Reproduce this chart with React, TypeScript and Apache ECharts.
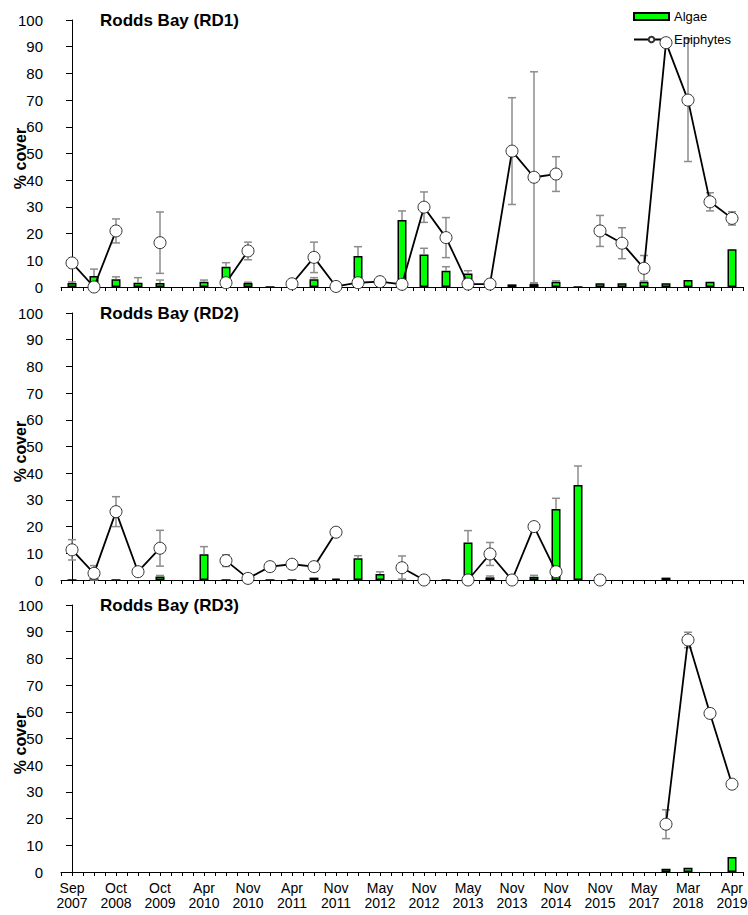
import React, { useEffect, useRef } from "react";
import * as echarts from "echarts";

// 31 sampling occasions; only every second one is labelled on the axis
const tickLabels = [
  "Sep\n2007", "", "Oct\n2008", "", "Oct\n2009", "", "Apr\n2010", "", "Nov\n2010", "",
  "Apr\n2011", "", "Nov\n2011", "", "May\n2012", "", "Nov\n2012", "", "May\n2013", "",
  "Nov\n2013", "", "Nov\n2014", "", "Nov\n2015", "", "May\n2017", "", "Mar\n2018", "",
  "Apr\n2019",
];

const panelTitles = ["Rodds Bay (RD1)", "Rodds Bay (RD2)", "Rodds Bay (RD3)"];

// RD1
const rd1Algae = [1.5, 4.1, 2.9, 1.6, 1.5, null, 2.0, 7.6, 1.5, 0, null, 2.9, null, 11.6, null, 25.1, 12.2, 6.1, 5.1, null, 1.0, 1.1, 2.0, 0, 1.4, 1.4, 2.0, 1.4, 2.6, 2.0, 14.1];
const rd1AlgaeErr = [0.4, 2.6, 0.9, 1.9, 1.1, null, 0.6, 1.5, 0.3, null, null, 0.6, null, 3.5, null, 3.4, 2.3, 1.5, 1.0, null, null, 0.3, 0.3, null, null, null, null, null, null, null, null];
const rd1Epi = [9.0, 0.0, 21.0, null, 16.6, null, null, 1.6, 13.5, null, 1.2, 11.1, 0.2, 1.6, 2.0, 1.0, 29.9, 18.5, 1.1, 1.1, 50.9, 41.1, 42.3, null, 21.0, 16.4, 7.0, 91.5, 70.0, 31.9, 25.7];
const rd1EpiErr = [null, null, 4.5, null, 11.5, null, null, null, 3.3, null, null, 5.7, null, null, null, null, 5.7, 7.5, null, null, 20.0, 39.5, 6.5, null, 5.8, 5.8, 4.8, 1.0, 23.0, 3.4, 2.5];

// RD2
const rd2Algae = [0, 0.6, 0, null, 1.3, null, 9.6, 0, null, 0, 0, 0.9, 0.5, 8.1, 2.25, 0.3, null, 0, 14.0, 1.0, null, 1.25, 26.6, 35.6, null, null, null, 0.9, null, null, null];
const rd2AlgaeErr = [null, null, null, null, 0.4, null, 2.9, null, null, null, null, null, null, 1.0, 0.8, null, null, null, 4.5, 0.5, null, 0.5, 4.0, 7.1, null, null, null, null, null, null, null];
const rd2Epi = [11.3, 2.5, 25.6, 3.1, 11.9, null, null, 7.25, 0.6, 5.0, 5.9, 5.0, 17.9, null, null, 4.6, 0, null, 0, 9.75, 0, 20.0, 3.1, null, 0, null, null, null, null, null, null];
const rd2EpiErr = [3.8, 2.9, 5.6, null, 6.7, null, null, 2.2, null, null, null, null, null, null, null, 4.4, null, null, null, 4.3, null, null, null, null, null, null, null, null, null, null, null];

// RD3
const rd3Algae = [null, null, null, null, null, null, null, null, null, null, null, null, null, null, null, null, null, null, null, null, null, null, null, null, null, null, null, 1.25, 1.6, null, 5.6];
const rd3AlgaeErr = [null, null, null, null, null, null, null, null, null, null, null, null, null, null, null, null, null, null, null, null, null, null, null, null, null, null, null, null, null, null, null];
const rd3Epi = [null, null, null, null, null, null, null, null, null, null, null, null, null, null, null, null, null, null, null, null, null, null, null, null, null, null, null, 17.9, 86.9, 59.4, 32.9];
const rd3EpiErr = [null, null, null, null, null, null, null, null, null, null, null, null, null, null, null, null, null, null, null, null, null, null, null, null, null, null, null, 5.4, 2.9, 1.0, 0.5];

const FONT = "'Liberation Sans', Arial, sans-serif";

export default function App() {
  const ref = useRef<HTMLDivElement>(null);

  useEffect(() => {
    if (!ref.current) return;
    const chart = echarts.init(ref.current, undefined, { renderer: "svg" });

    const panels = [
      { algae: rd1Algae, algaeErr: rd1AlgaeErr, epi: rd1Epi, epiErr: rd1EpiErr },
      { algae: rd2Algae, algaeErr: rd2AlgaeErr, epi: rd2Epi, epiErr: rd2EpiErr },
      { algae: rd3Algae, algaeErr: rd3AlgaeErr, epi: rd3Epi, epiErr: rd3EpiErr },
    ];
    const gridTops = [20, 313, 605];
    const gridH = 267;

    const makeErrRender = (lowCap: boolean) => (params: any, api: any) => {
      const x = api.value(0);
      const lo = api.value(1);
      const hi = api.value(2);
      const pHi = api.coord([x, hi]);
      const pLo = api.coord([x, lo]);
      const style = { stroke: "#8c8c8c", lineWidth: 1.5 };
      const children: any[] = [
        { type: "line", shape: { x1: pHi[0], y1: pHi[1], x2: pLo[0], y2: pLo[1] }, style },
        { type: "line", shape: { x1: pHi[0] - 4, y1: pHi[1], x2: pHi[0] + 4, y2: pHi[1] }, style },
      ];
      if (lowCap) {
        children.push({ type: "line", shape: { x1: pLo[0] - 4, y1: pLo[1], x2: pLo[0] + 4, y2: pLo[1] }, style });
      }
      return { type: "group", children };
    };

    const grids: any[] = [];
    const xAxes: any[] = [];
    const yAxes: any[] = [];
    const titles: any[] = [];
    const series: any[] = [];

    panels.forEach((p, k) => {
      grids.push({
        left: 61,
        width: 682,
        top: gridTops[k],
        height: gridH,
        containLabel: false,
        outerBoundsMode: "none",
      });
      titles.push({
        text: panelTitles[k],
        left: 100,
        top: gridTops[k] - 10,
        padding: 0,
        textStyle: { fontSize: 17, fontWeight: "bold", fontFamily: FONT, color: "#000", lineHeight: 20 },
      });
      xAxes.push({
        type: "value",
        gridIndex: k,
        min: -0.5,
        max: 30.5,
        interval: 0.5,
        silent: true,
        splitLine: { show: false },
        axisLine: { show: true, onZero: false, lineStyle: { color: "#000", width: 1 } },
        axisTick: { show: true, inside: false, length: 4, lineStyle: { color: "#000", width: 1 } },
        axisLabel: {
          show: k === 2,
          margin: 8,
          fontSize: 14,
          lineHeight: 15,
          color: "#000",
          fontFamily: FONT,
          showMinLabel: true,
          showMaxLabel: true,
          formatter: (v: number) => {
            const i = Math.round(v);
            if (Math.abs(v - i) > 0.01 || i < 0 || i >= tickLabels.length) return "";
            return tickLabels[i];
          },
        },
      });
      yAxes.push({
        type: "value",
        gridIndex: k,
        min: 0,
        max: 100,
        interval: 10,
        silent: true,
        name: "% cover",
        nameLocation: "middle",
        nameGap: 33,
        nameMoveOverlap: false,
        nameRotate: 90,
        nameTextStyle: { fontSize: 16, fontWeight: "bold", fontFamily: FONT, color: "#000", padding: [0, 10, 0, 0] },
        splitLine: { show: false },
        axisLine: { show: true, lineStyle: { color: "#000", width: 1 } },
        axisTick: { show: true, inside: false, length: 6, lineStyle: { color: "#000", width: 1 } },
        axisLabel: { fontSize: 15, margin: 18, color: "#000", fontFamily: FONT },
      });

      const barData = p.algae
        .map((v, i) => (v == null ? null : [i, v]))
        .filter((d) => d != null);
      const algaeErrData = p.algae
        .map((v, i) => {
          const e = p.algaeErr[i];
          return v == null || e == null ? null : [i, v, v + e];
        })
        .filter((d) => d != null);
      const lineData = p.epi.map((v, i) => [i, v == null ? "-" : v]);
      const epiErrData = p.epi
        .map((v, i) => {
          const e = p.epiErr[i];
          return v == null || e == null ? null : [i, Math.max(0, v - e), v + e];
        })
        .filter((d) => d != null);

      series.push({
        name: "Algae",
        type: "bar",
        xAxisIndex: k,
        yAxisIndex: k,
        barWidth: 9,
        z: 2,
        itemStyle: { color: "#00ff00", borderColor: "#000", borderWidth: 1.5 },
        data: barData,
      });
      series.push({
        name: "algaeErr" + k,
        type: "custom",
        xAxisIndex: k,
        yAxisIndex: k,
        z: 3,
        renderItem: makeErrRender(false),
        encode: { x: 0, y: [1, 2] },
        data: algaeErrData,
      });
      series.push({
        name: "epiErr" + k,
        type: "custom",
        xAxisIndex: k,
        yAxisIndex: k,
        z: 3,
        renderItem: makeErrRender(true),
        encode: { x: 0, y: [1, 2] },
        data: epiErrData,
      });
      series.push({
        name: "Epiphytes",
        type: "line",
        xAxisIndex: k,
        yAxisIndex: k,
        z: 5,
        symbol: "circle",
        symbolSize: 12,
        showAllSymbol: true,
        connectNulls: false,
        lineStyle: { color: "#000", width: 1.8 },
        itemStyle: { color: "#fff", borderColor: "#333", borderWidth: 1 },
        data: lineData,
      });
    });

    chart.setOption({
      animation: false,
      backgroundColor: "#fff",
      title: titles,
      legend: {
        data: [{ name: "Algae", icon: "rect" }, { name: "Epiphytes" }],
        orient: "vertical",
        left: 633,
        top: 10,
        padding: 0,
        itemWidth: 35,
        itemHeight: 7,
        itemGap: 10,
        selectedMode: false,
        textStyle: { fontSize: 13, fontFamily: FONT, color: "#000" },
      },
      grid: grids,
      xAxis: xAxes,
      yAxis: yAxes,
      series,
    });

    return () => chart.dispose();
  }, []);

  return (
    <div
      ref={ref}
      style={{ position: "absolute", left: 0, top: 0, width: 748, height: 915, background: "#fff" }}
    />
  );
}
